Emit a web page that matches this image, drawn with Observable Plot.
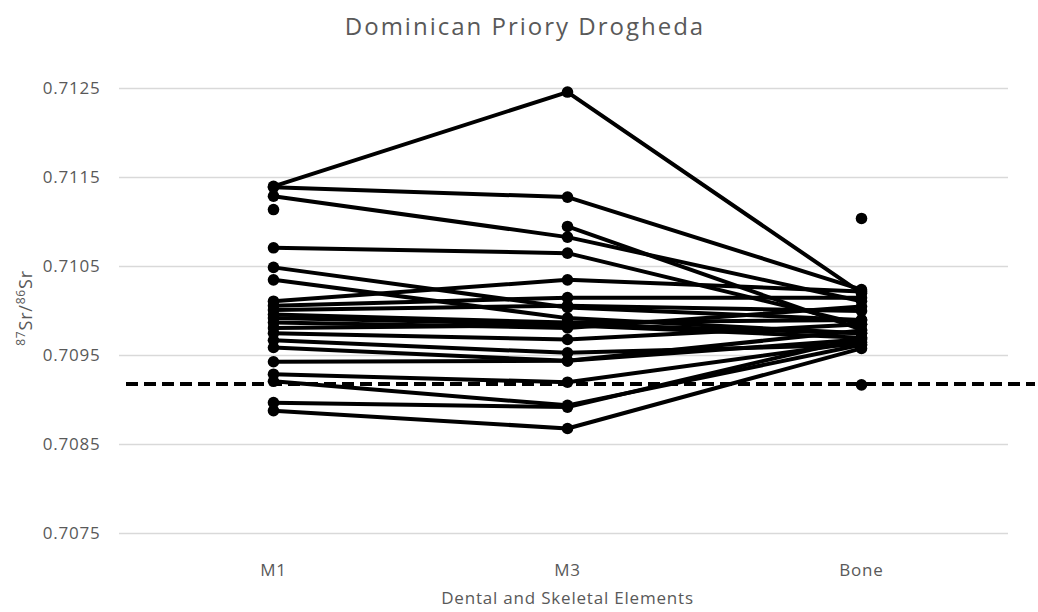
<!DOCTYPE html>
<html>
<head>
<meta charset="utf-8">
<script src="https://cdn.jsdelivr.net/npm/d3@7"></script>
<script src="https://cdn.jsdelivr.net/npm/@observablehq/plot@0.6"></script>
<style>
  html, body { margin: 0; padding: 0; background: #fff; }
  #title { height: 60px; box-sizing: border-box; padding-top: 11px; text-align: center;
           font-family: "Open Sans", sans-serif; font-size: 24px; color: #595959; letter-spacing: 2px; line-height: 30px; padding-left: 12px; }
  #chart svg text { letter-spacing: 0.8px; }
</style>
</head>
<body>
<div id="title">Dominican Priory Drogheda</div>
<div id="chart"></div>
<script>
const categories = ["M1", "M3", "Bone"];
const yTicks = [0.7075, 0.7085, 0.7095, 0.7105, 0.7115, 0.7125];
const baseline = 0.70918;

// one entry per individual (null = no value)
const m1 = [0.71140, 0.71139, 0.71129, 0.71114, null, 0.71071, 0.71049, 0.71035,
            0.71011, 0.71006, 0.71001, 0.70996, 0.70992, 0.70987, 0.70981, 0.70975,
            0.70967, 0.70959, 0.70943, 0.70929, 0.70921, 0.70897, 0.70888, null];
const m3 = [0.71246, 0.71128, 0.71083, null, 0.71095, 0.71065, 0.71004, 0.70992,
            0.71035, 0.71015, 0.71006, 0.70987, 0.70985, 0.70981, 0.70984, 0.70968,
            0.70953, 0.70944, 0.70944, 0.70920, 0.70894, 0.70892, 0.70868, null];
const bone = [0.71020, 0.71024, 0.71011, 0.71104, 0.70979, 0.70985, 0.70990, 0.70975,
              0.71022, 0.71015, 0.71000, 0.70990, 0.70975, 0.71005, 0.70970, 0.70985,
              0.70962, 0.70968, 0.70978, 0.70965, 0.70962, 0.70970, 0.70958, 0.70917];

const series = [m1, m3, bone];
const rows = [];
m1.forEach((_, i) => {
  categories.forEach((c, j) => {
    rows.push({id: i, cat: c, v: series[j][i]});
  });
});
const pts = rows.filter(d => d.v != null);

const plot = Plot.plot({
  width: 1038,
  height: 552,
  marginTop: 28,
  marginBottom: 79,
  marginLeft: 126,
  marginRight: 30,
  style: {fontFamily: "'Open Sans', sans-serif", fontSize: "17px", color: "#595959", background: "#fff"},
  x: {type: "point", domain: categories, padding: 0.5, label: null},
  y: {domain: [0.7075, 0.7125], label: null},
  marks: [
    Plot.ruleY(yTicks, {stroke: "#d9d9d9", strokeWidth: 1.3, insetLeft: -7}),
    Plot.axisY({ticks: yTicks, tickSize: 0, tickPadding: 26, tickFormat: d3.format(".4f"), label: null}),
    Plot.axisX({tickSize: 0, tickPadding: 30, label: "Dental and Skeletal Elements", labelAnchor: "center", labelOffset: 70}),
    Plot.ruleY([baseline], {stroke: "#000", strokeWidth: 3.8, strokeDasharray: "12,6", insetRight: -27}),
    Plot.line(rows, {x: "cat", y: "v", z: "id", stroke: "#000", strokeWidth: 4, curve: "linear"}),
    Plot.dot(pts, {x: "cat", y: "v", r: 5.8, fill: "#000", stroke: null})
  ]
});
document.getElementById("chart").appendChild(plot);

const svg = d3.select(plot);
const lab = svg.append("text")
  .attr("transform", "translate(32,248) rotate(-90)")
  .attr("text-anchor", "middle")
  .attr("fill", "#595959")
  .attr("font-family", "'Open Sans', sans-serif")
  .attr("font-size", 18);
lab.append("tspan").attr("font-size", 12).attr("dy", -7).text("87");
lab.append("tspan").attr("dy", 7).text("Sr/");
lab.append("tspan").attr("font-size", 12).attr("dy", -7).text("86");
lab.append("tspan").attr("dy", 7).text("Sr");
</script>
</body>
</html>
